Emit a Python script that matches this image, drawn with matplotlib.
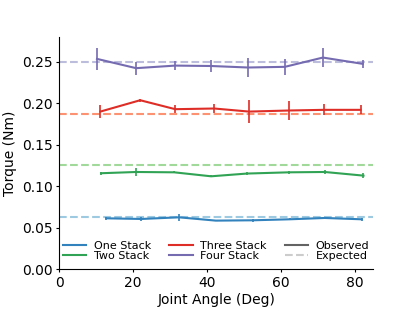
import matplotlib
matplotlib.use("Agg")
import matplotlib.pyplot as plt
from matplotlib.lines import Line2D

# joint angles (deg) for each stack configuration
angle_one = [12.7, 22.2, 32.4, 42.4, 52.4, 62.4, 71.9, 81.9]
angle_two = [11.3, 20.8, 31.1, 41.1, 50.8, 62.2, 71.9, 82.4]
angle_three = [11.1, 21.9, 31.4, 42.0, 51.4, 62.2, 71.6, 81.6]
angle_four = [10.2, 20.8, 31.4, 41.2, 51.1, 61.1, 71.4, 82.2]

torque_one = [0.0612, 0.0604, 0.0624, 0.0584, 0.0588, 0.0600, 0.0616, 0.0600]
torque_two = [0.1156, 0.1171, 0.1167, 0.1119, 0.1152, 0.1167, 0.1171, 0.1127]
torque_three = [0.1900, 0.2037, 0.1929, 0.1937, 0.1900, 0.1913, 0.1921, 0.1921]
torque_four = [0.2536, 0.2424, 0.2455, 0.2450, 0.2432, 0.2440, 0.2552, 0.2476]

err_one = [0.002, 0.002, 0.004, 0.001, 0.002, 0.001, 0.001, 0.002]
err_two = [0.002, 0.0046, 0.001, 0.001, 0.002, 0.002, 0.003, 0.0026]
err_three = [0.0074, 0.002, 0.005, 0.006, 0.014, 0.0115, 0.0066, 0.0054]
err_four = [0.013, 0.0077, 0.005, 0.007, 0.011, 0.0097, 0.0117, 0.0046]

expected = [0.0625, 0.125, 0.1875, 0.25]
labels = ["One Stack", "Two Stack", "Three Stack", "Four Stack"]
observed_colors = ["#3182bd", "#31a354", "#de2d26", "#756bb1"]
expected_colors = ["#9ecae1", "#a1d99b", "#fc9272", "#bcbddc"]

fig = plt.figure(figsize=(4.15, 3.11), dpi=100)
ax = fig.add_axes([0.143, 0.135, 0.756, 0.746])

series = [
    (angle_one, torque_one, err_one),
    (angle_two, torque_two, err_two),
    (angle_three, torque_three, err_three),
    (angle_four, torque_four, err_four),
]
for (x, y, e), exp, oc, ec in zip(series, expected, observed_colors, expected_colors):
    ax.axhline(exp, color=ec, linestyle="--", linewidth=1.5, zorder=1)
    ax.errorbar(x, y, yerr=e, color=oc, linewidth=1.5, elinewidth=1.2, capsize=0, zorder=2)

ax.set_xlim(0, 85)
ax.set_ylim(0, 0.28)
ax.set_xticks([0, 20, 40, 60, 80])
ax.set_yticks([0.0, 0.05, 0.10, 0.15, 0.20, 0.25])
ax.set_yticklabels(["0.00", "0.05", "0.10", "0.15", "0.20", "0.25"])
ax.tick_params(length=2.5, pad=2.5, labelsize=10)
ax.set_xlabel("Joint Angle (Deg)", labelpad=2)
ax.set_ylabel("Torque (Nm)", labelpad=3)
ax.spines["top"].set_visible(False)
ax.spines["right"].set_visible(False)

handles = [Line2D([], [], color=c, linewidth=1.5) for c in observed_colors]
handles += [
    Line2D([], [], color="#636363", linewidth=1.5),
    Line2D([], [], color="#cccccc", linewidth=1.5, linestyle="--"),
]
ax.legend(handles, labels + ["Observed", "Expected"], ncol=3, loc="lower center",
          frameon=False, fontsize=8, bbox_to_anchor=(0.5, -0.01),
          columnspacing=1.6, handlelength=2.1, handletextpad=0.7, labelspacing=0.05)

fig.savefig("out.png", dpi=100)
